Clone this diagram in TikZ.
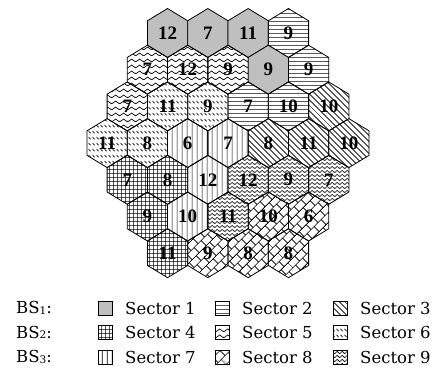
\documentclass[tikz,border=0pt]{standalone}
\usepackage{fontspec}
\usetikzlibrary{patterns.meta}
\newfontfamily\cellfont{Liberation Serif}
\newfontfamily\legendfont{DejaVu Serif}
\newcommand{\bsno}[1]{\raisebox{-0.5pt}{\fontsize{10.5}{10.5}\selectfont #1}}

\tikzdeclarepattern{name=hlines, type=uncolored,
  bounding box={(0pt,0pt) and (4pt,4pt)}, tile size={(4pt,4pt)},
  code={\draw[line width=0.75pt] (-1pt,2pt) -- (5pt,2pt);}}
\tikzdeclarepattern{name=dlines, type=uncolored,
  bounding box={(0pt,0pt) and (4.2pt,4.2pt)}, tile size={(4.2pt,4.2pt)},
  tile transformation={rotate=-45},
  code={\draw[line width=0.75pt] (-1pt,2.1pt) -- (5.2pt,2.1pt);}}
\tikzdeclarepattern{name=gridlines, type=uncolored,
  bounding box={(0pt,0pt) and (4pt,4pt)}, tile size={(4pt,4pt)},
  code={\draw[line width=0.75pt] (-1pt,2pt) -- (5pt,2pt) (2pt,-1pt) -- (2pt,5pt);}}
\tikzdeclarepattern{name=zigzag, type=uncolored,
  bounding box={(0pt,0pt) and (8pt,6pt)}, tile size={(8pt,6pt)},
  code={\draw[line width=0.75pt] (-4pt,4.5pt) -- (0pt,1.5pt) -- (4pt,4.5pt) -- (8pt,1.5pt) -- (12pt,4.5pt);}}
\tikzdeclarepattern{name=shortdash, type=uncolored,
  bounding box={(0pt,0pt) and (4pt,6pt)}, tile size={(4pt,6pt)},
  code={\draw[line width=0.75pt] (0.6pt,4.6pt) -- (3.2pt,2pt);}}
\tikzdeclarepattern{name=vlines, type=uncolored,
  bounding box={(0pt,0pt) and (5pt,5pt)}, tile size={(5pt,5pt)},
  code={\draw[line width=0.75pt] (2.5pt,-1pt) -- (2.5pt,6pt);}}
\tikzdeclarepattern{name=brick, type=uncolored,
  bounding box={(0pt,0pt) and (10pt,14pt)}, tile size={(10pt,14pt)},
  tile transformation={rotate=45},
  code={\draw[line width=0.75pt] (-1pt,3.5pt) -- (11pt,3.5pt) (-1pt,10.5pt) -- (11pt,10.5pt)
          (2.5pt,3.5pt) -- (2.5pt,10.5pt) (7.5pt,10.5pt) -- (7.5pt,15pt) (7.5pt,-1pt) -- (7.5pt,3.5pt);}}
\tikzdeclarepattern{name=weave, type=uncolored,
  bounding box={(0pt,0pt) and (5pt,3.5pt)}, tile size={(5pt,3.5pt)},
  code={\draw[line width=0.65pt] (-2.5pt,3pt) -- (0pt,0.5pt) -- (2.5pt,3pt) -- (5pt,0.5pt) -- (7.5pt,3pt);}}

\begin{document}
\begin{tikzpicture}[x=1pt, y=1pt,
    cell/.style={draw, line width=0.8pt},
    sec1/.style={fill=black!25},
    sec2/.style={pattern=hlines},
    sec3/.style={pattern=dlines},
    sec4/.style={pattern=gridlines},
    sec5/.style={pattern=zigzag},
    sec6/.style={pattern=shortdash},
    sec7/.style={pattern=vlines},
    sec8/.style={pattern=brick},
    sec9/.style={pattern=weave},
    num/.style={font=\cellfont\bfseries\fontsize{19}{19}\selectfont, inner sep=0pt},
    leg/.style={font=\legendfont\fontsize{16.5}{16.5}\selectfont, anchor=west, inner sep=0pt},
    swatch/.style={draw, line width=0.8pt, minimum size=14pt, inner sep=0pt},
    pics/hexcell/.style 2 args={code={
      \path[cell,#1] (0,24.47) -- (20.15,12.23) -- (20.15,-12.23) -- (0,-24.47)
        -- (-20.15,-12.23) -- (-20.15,12.23) -- cycle;
      \node[num] (-n) at (0,0) {#2};
    }}
  ]
  \useasboundingbox (0,0) rectangle (436,-387);
  % cells
  \pic (r1a) at (167.55,-33) {hexcell={sec1}{12}};
  \pic (r1b) at (207.85,-33) {hexcell={sec1}{7}};
  \pic (r1c) at (248.15,-33) {hexcell={sec1}{11}};
  \pic (r1d) at (288.45,-33) {hexcell={sec2}{9}};
  \pic (r2a) at (147.4,-69.7) {hexcell={sec5}{7}};
  \pic (r2b) at (187.7,-69.7) {hexcell={sec5}{12}};
  \pic (r2c) at (228,-69.7)   {hexcell={sec5}{9}};
  \pic (r2d) at (268.3,-69.7) {hexcell={sec1}{9}};
  \pic (r2e) at (308.6,-69.7) {hexcell={sec2}{9}};
  \pic (r3a) at (127.25,-106.4) {hexcell={sec5}{7}};
  \pic (r3b) at (167.55,-106.4) {hexcell={sec6}{11}};
  \pic (r3c) at (207.85,-106.4) {hexcell={sec6}{9}};
  \pic (r3d) at (248.15,-106.4) {hexcell={sec2}{7}};
  \pic (r3e) at (288.45,-106.4) {hexcell={sec2}{10}};
  \pic (r3f) at (328.75,-106.4) {hexcell={sec3}{10}};
  \pic (r4a) at (107.1,-143.1) {hexcell={sec6}{11}};
  \pic (r4b) at (147.4,-143.1) {hexcell={sec6}{8}};
  \pic (r4c) at (187.7,-143.1) {hexcell={sec7}{6}};
  \pic (r4d) at (228,-143.1)   {hexcell={sec7}{7}};
  \pic (r4e) at (268.3,-143.1) {hexcell={sec3}{8}};
  \pic (r4f) at (308.6,-143.1) {hexcell={sec3}{11}};
  \pic (r4g) at (348.9,-143.1) {hexcell={sec3}{10}};
  \pic (r5a) at (127.25,-179.8) {hexcell={sec4}{7}};
  \pic (r5b) at (167.55,-179.8) {hexcell={sec4}{8}};
  \pic (r5c) at (207.85,-179.8) {hexcell={sec7}{12}};
  \pic (r5d) at (248.15,-179.8) {hexcell={sec9}{12}};
  \pic (r5e) at (288.45,-179.8) {hexcell={sec9}{9}};
  \pic (r5f) at (328.75,-179.8) {hexcell={sec9}{7}};
  \pic (r6a) at (147.4,-216.5) {hexcell={sec4}{9}};
  \pic (r6b) at (187.7,-216.5) {hexcell={sec7}{10}};
  \pic (r6c) at (228,-216.5)   {hexcell={sec9}{11}};
  \pic (r6d) at (268.3,-216.5) {hexcell={sec8}{10}};
  \pic (r6e) at (308.6,-216.5) {hexcell={sec8}{6}};
  \pic (r7a) at (167.55,-253.2) {hexcell={sec4}{11}};
  \pic (r7b) at (207.85,-253.2) {hexcell={sec8}{9}};
  \pic (r7c) at (248.15,-253.2) {hexcell={sec8}{8}};
  \pic (r7d) at (288.45,-253.2) {hexcell={sec8}{8}};
  % legend
  \node[leg] (bs1) at (16,-308) {BS\bsno{1}:};
  \node[leg] (bs2) at (16,-332.5) {BS\bsno{2}:};
  \node[leg] (bs3) at (16,-357) {BS\bsno{3}:};
  \node[swatch,sec1] (k1) at (105,-308) {};
  \node[swatch,sec2] (k2) at (222,-308) {};
  \node[swatch,sec3] (k3) at (340,-308) {};
  \node[swatch,sec4] (k4) at (105,-332.5) {};
  \node[swatch,sec5] (k5) at (222,-332.5) {};
  \node[swatch,sec6] (k6) at (340,-332.5) {};
  \node[swatch,sec7] (k7) at (105,-357) {};
  \node[swatch,sec8] (k8) at (222,-357) {};
  \node[swatch,sec9] (k9) at (340,-357) {};
  \node[leg] (s1) at (125,-308) {Sector 1};
  \node[leg] (s2) at (242,-308) {Sector 2};
  \node[leg] (s3) at (360,-308) {Sector 3};
  \node[leg] (s4) at (125,-332.5) {Sector 4};
  \node[leg] (s5) at (242,-332.5) {Sector 5};
  \node[leg] (s6) at (360,-332.5) {Sector 6};
  \node[leg] (s7) at (125,-357) {Sector 7};
  \node[leg] (s8) at (242,-357) {Sector 8};
  \node[leg] (s9) at (360,-357) {Sector 9};
\end{tikzpicture}
\end{document}
